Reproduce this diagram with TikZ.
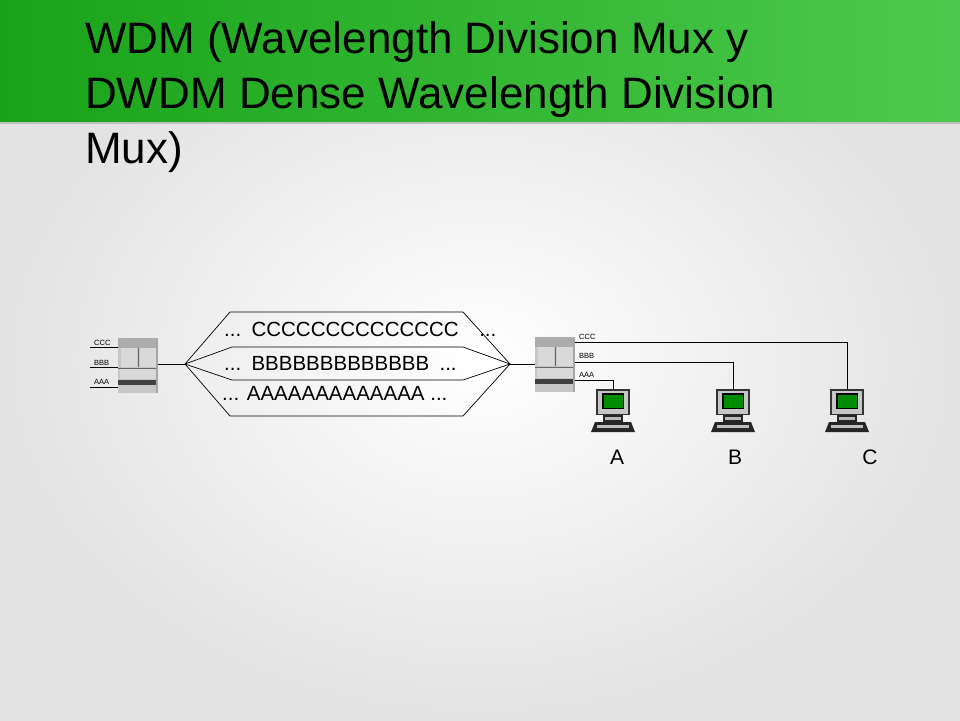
\documentclass[tikz,border=0pt]{standalone}
\usepackage{fontspec}
\setmainfont{Liberation Sans}
\begin{document}
\begin{tikzpicture}[x=1pt,y=-1pt,
  ln/.style={draw=black,line width=0.7pt},
  small/.style={font=\fontsize{7.5}{8}\selectfont,anchor=south west,inner sep=1pt},
  wave/.style={font=\fontsize{20.5}{22}\selectfont,anchor=west,inner sep=0pt},
  lbl/.style={font=\fontsize{21}{22}\selectfont,inner sep=0pt}]
\useasboundingbox (0,0) rectangle (960,720);
\shade[inner color=white,outer color=gray!22] (0,0) rectangle (960,720);
\shade[left color=green!60!black!90,right color=green!70!black!70!white] (0,0) rectangle (960,122);
\fill[gray!50] (0,122) rectangle (960,124);
\node[anchor=north west,align=left,font=\fontsize{44}{55}\selectfont,inner sep=0pt] (title) at (85,21)
 {WDM (Wavelength Division Mux y\\DWDM Dense Wavelength Division\\Mux)};
\tikzset{mux/.pic={
  \fill[gray!45] (0,0) rectangle (40,55);
  \fill[gray!65] (0,0) rectangle (40,10);
  \fill[gray!30] (3,10) rectangle (19,29);
  \fill[gray!30] (22,10) rectangle (38,29);
  \draw[gray!80!black] (20,10) -- (20,29) (0,30) -- (40,30);
  \fill[gray!30] (2,31) rectangle (38,41);
  \fill[black!75] (0,42) rectangle (40,47);
  \fill[gray!70] (38,2) rectangle (40,55);
}}
\pic at (118,338) {mux};
\pic at (535,337) {mux};
\coordinate (lm) at (158,364);
\coordinate (rm) at (535,364);
\coordinate (lv) at (185,364);
\coordinate (rv) at (510,364);
\node[small] (lc) at (93,347) {CCC};
\node[small] (lb) at (93,367) {BBB};
\node[small] (la) at (93,386) {AAA};
\draw[ln,line width=0.5pt] (90,347)--(118,347) (90,367)--(118,367) (90,387)--(118,387);
\draw[ln] (lm)--(lv) (rv)--(rm);
\draw[ln] (lv)--(230,312)--(463,312)--(rv);
\draw[ln] (lv)--(230,416)--(463,416)--(rv);
\draw[ln] (lv)--(232,347)--(463,347)--(rv);
\draw[ln] (lv)--(232,380)--(463,380)--(rv);
\node[wave] (wc) at (224,329) {...\enspace CCCCCCCCCCCCCC\enspace\enspace ...};
\node[wave] (wb) at (224,363) {...\enspace BBBBBBBBBBBBB\enspace ...};
\node[wave] (wa) at (222,393) {... AAAAAAAAAAAAA ...};
\node[small] (rc) at (578,341) {CCC};
\node[small] (rb) at (578,360) {BBB};
\node[small] (ra) at (578,379) {AAA};
\tikzset{pc/.pic={
  \fill[black!80] (-17,0) rectangle (17,26);
  \fill[gray!45] (-15,1.5) rectangle (15,24.5);
  \fill[black] (-11,4) rectangle (11,20);
  \fill[green!55!black] (-9.5,5.5) rectangle (9.5,18.5);
  \fill[black!85] (-10,26) rectangle (10,33);
  \fill[gray!55] (-8,28) rectangle (8,31);
  \fill[black!85] (-18,33) -- (18,33) -- (22,43) -- (-22,43) -- cycle;
  \fill[gray!50] (-16,36) rectangle (16,39);
}}
\pic at (613,389) {pc};
\pic at (733,389) {pc};
\pic at (847,389) {pc};
\coordinate (pa) at (613,389);
\coordinate (pb) at (733,389);
\coordinate (pcc) at (847,389);
\draw[ln] (575,342)-|(pcc);
\draw[ln] (575,362)-|(pb);
\draw[ln] (575,380)-|(pa);
\node[lbl] (A) at (617,457) {A};
\node[lbl] (B) at (735,457) {B};
\node[lbl] (C) at (870,457) {C};
\end{tikzpicture}
\end{document}
